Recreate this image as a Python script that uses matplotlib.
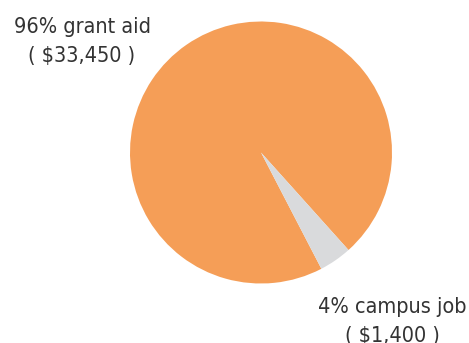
import matplotlib
matplotlib.use('Agg')
from matplotlib import pyplot as plt

# data
labels = ['grant aid', 'campus job']
amounts = [33450, 1400]
colors = ['#F59E57', '#D9DADC']

total = sum(amounts)
pcts = [round(a * 100 / total) for a in amounts]

fig = plt.figure(figsize=(4.69, 3.43), dpi=100)
ax = fig.add_axes([0, 0, 1, 1])

# pie in pixel units, centre (261, 152 from top)
ax.pie(amounts, colors=colors, startangle=-48.1, center=(261, 343 - 152.5),
       radius=131, wedgeprops=dict(linewidth=0), frame=True)
ax.set_xlim(0, 469)
ax.set_ylim(0, 343)
ax.set_aspect('equal')
ax.axis('off')

txt = '#333333'
# label x centre, first/second baseline (pixels from top)
for (x, y1, y2), lab, pct, amt in zip([(82, 33, 62), (392, 313, 342)], labels, pcts, amounts):
    for s, y in [('%d%% %s' % (pct, lab), y1), ('( $%s )' % format(amt, ','), y2)]:
        ax.text(x, 343 - y, s, ha='center', va='baseline', fontsize=15.5,
                family='DejaVu Sans', fontstretch='condensed', color=txt)

fig.savefig('out.png', dpi=100)
